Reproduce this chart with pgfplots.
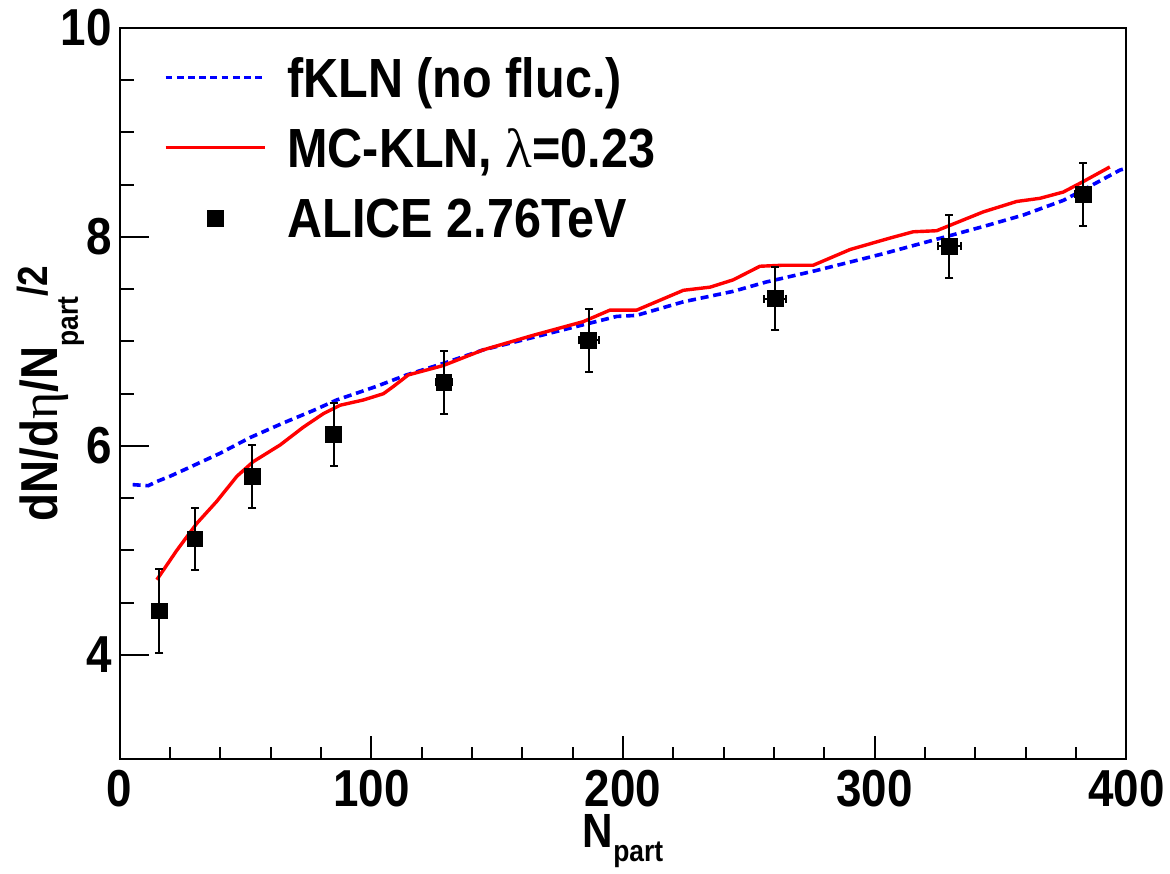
\documentclass[border=0pt]{standalone}
\usepackage{pgfplots}
\pgfplotsset{compat=1.18}
\usepackage{fontspec}
\setmainfont{Liberation Sans Bold}[FakeStretch=0.88]
\newfontfamily\symf{Liberation Serif}

\pgfplotstableread{
x y
5.2 5.63
11.4 5.62
14.8 5.66
20 5.71
27.3 5.79
39.9 5.93
51.8 6.08
65 6.22
77 6.34
86.2 6.44
102 6.57
114 6.68
128.6 6.79
144.5 6.92
164.4 7.04
184.2 7.16
197.5 7.24
205.4 7.25
224 7.38
243.8 7.48
257 7.57
276.9 7.68
303.4 7.84
323.3 7.97
343.1 8.10
359 8.21
374.9 8.35
382.8 8.45
397.4 8.64
400 8.66
}\fkln

\pgfplotstableread{
x y
14.8 4.72
22.7 5.00
30.7 5.26
38.6 5.47
46.6 5.71
53.1 5.85
63.8 6.01
73 6.18
81 6.31
87.6 6.39
96.8 6.44
104.8 6.50
108.8 6.57
114.7 6.68
128.6 6.77
144.5 6.92
164.4 7.06
184.2 7.19
194.8 7.30
205.4 7.30
224 7.49
234.6 7.52
243.8 7.59
254.4 7.72
263.7 7.73
275.6 7.73
290.2 7.88
306.1 7.99
315.3 8.05
324.6 8.06
343.1 8.24
356.4 8.34
365.6 8.37
374.9 8.43
382.8 8.53
393.4 8.67
}\mckln

\pgfplotstableread{
x y ex ey
15.8 4.42 0.6 0.4
30.0 5.11 1.3 0.3
52.8 5.71 2.0 0.3
85.0 6.11 2.6 0.3
128.9 6.61 3.3 0.3
186.4 7.01 3.9 0.3
260.5 7.41 4.4 0.3
329.7 7.91 4.6 0.3
382.8 8.41 3.1 0.3
}\alice

\begin{document}
\begin{tikzpicture}
\begin{axis}[
  scale only axis, width=251.75pt, height=182.9pt,
  xmin=0, xmax=400, ymin=3, ymax=10,
  xtick={0,100,200,300,400}, minor x tick num=4,
  ytick={4,6,8,10}, minor y tick num=3,
  xtick pos=bottom, ytick pos=left, tick align=inside,
  major tick length=7.25pt, minor tick length=3.5pt,
  major x tick style={/pgfplots/major tick length=5.75pt},
  minor x tick style={/pgfplots/minor tick length=3pt},
  axis line style={line width=0.5pt},
  tick style={black, line width=0.5pt},
  /pgf/number format/assume math mode=true,
  tick label style={font=\fontsize{13}{13}\selectfont, inner sep=0pt},
  xticklabel style={yshift=-2.6pt},
  yticklabel style={xshift=-1.75pt},
  xlabel={N\raisebox{-0.3em}{\fontsize{7.5}{7.5}\selectfont part}},
  xlabel style={at={([yshift=-21.9pt]axis description cs:0.5,0)}, anchor=base, inner sep=0pt, font=\fontsize{12}{12}\selectfont},
  ylabel={dN/d{\symf η}/N\raisebox{-0.4em}{\fontsize{7.5}{7.5}\selectfont part}\raisebox{2.5pt}{\fontsize{10.5}{10.5}\selectfont /2}},
  ylabel style={at={([xshift=-15.6pt]axis description cs:0,0.5)}, anchor=base, inner sep=0pt, font=\fontsize{13}{13}\selectfont},
  legend style={draw=none, fill=none, at={(0,1)}, anchor=north west, xshift=10.9pt, yshift=-7.2pt,
    inner sep=0pt, row sep=7.7pt, column sep=5.25pt, font=\fontsize{13.8}{13.8}\selectfont,
    nodes={inner xsep=0pt, inner ysep=0pt, text height=9.9pt, text depth=0pt, anchor=base west}},
  legend cell align=left,
]
\addplot[blue, line width=0.9pt, dash pattern=on 2pt off 1.2pt,
  legend image code/.code={\draw[blue, line width=0.85pt, dash pattern=on 1.7pt off 1.1pt] (0pt,4.95pt) -- (24.75pt,4.95pt);}]
  table[x=x,y=y] {\fkln};
\addlegendentry{fKLN (no fluc.)}
\addplot[red, line width=0.85pt,
  legend image code/.code={\draw[red, line width=0.85pt] (0pt,4.95pt) -- (24.75pt,4.95pt);}]
  table[x=x,y=y] {\mckln};
\addlegendentry{MC-KLN, {\symf λ}=0.23}
\addplot[black, only marks, mark=square*, mark size=1.9pt,
  legend image code/.code={\fill[black] (10.5pt,3.05pt) rectangle (14.3pt,6.85pt);},
  error bars/.cd, x dir=both, x explicit, y dir=both, y explicit,
  error bar style={line width=0.5pt, black},
  error mark options={rotate=90, black, mark size=1pt, line width=0.5pt}]
  table[x=x, y=y, x error=ex, y error=ey] {\alice};
\addlegendentry{ALICE 2.76TeV}
\end{axis}
\pgfresetboundingbox
\path ([shift={(-29.9pt,-28.6pt)}]current axis.south west) rectangle ([shift={(10.9pt,7pt)}]current axis.north east);
\end{tikzpicture}
\end{document}
